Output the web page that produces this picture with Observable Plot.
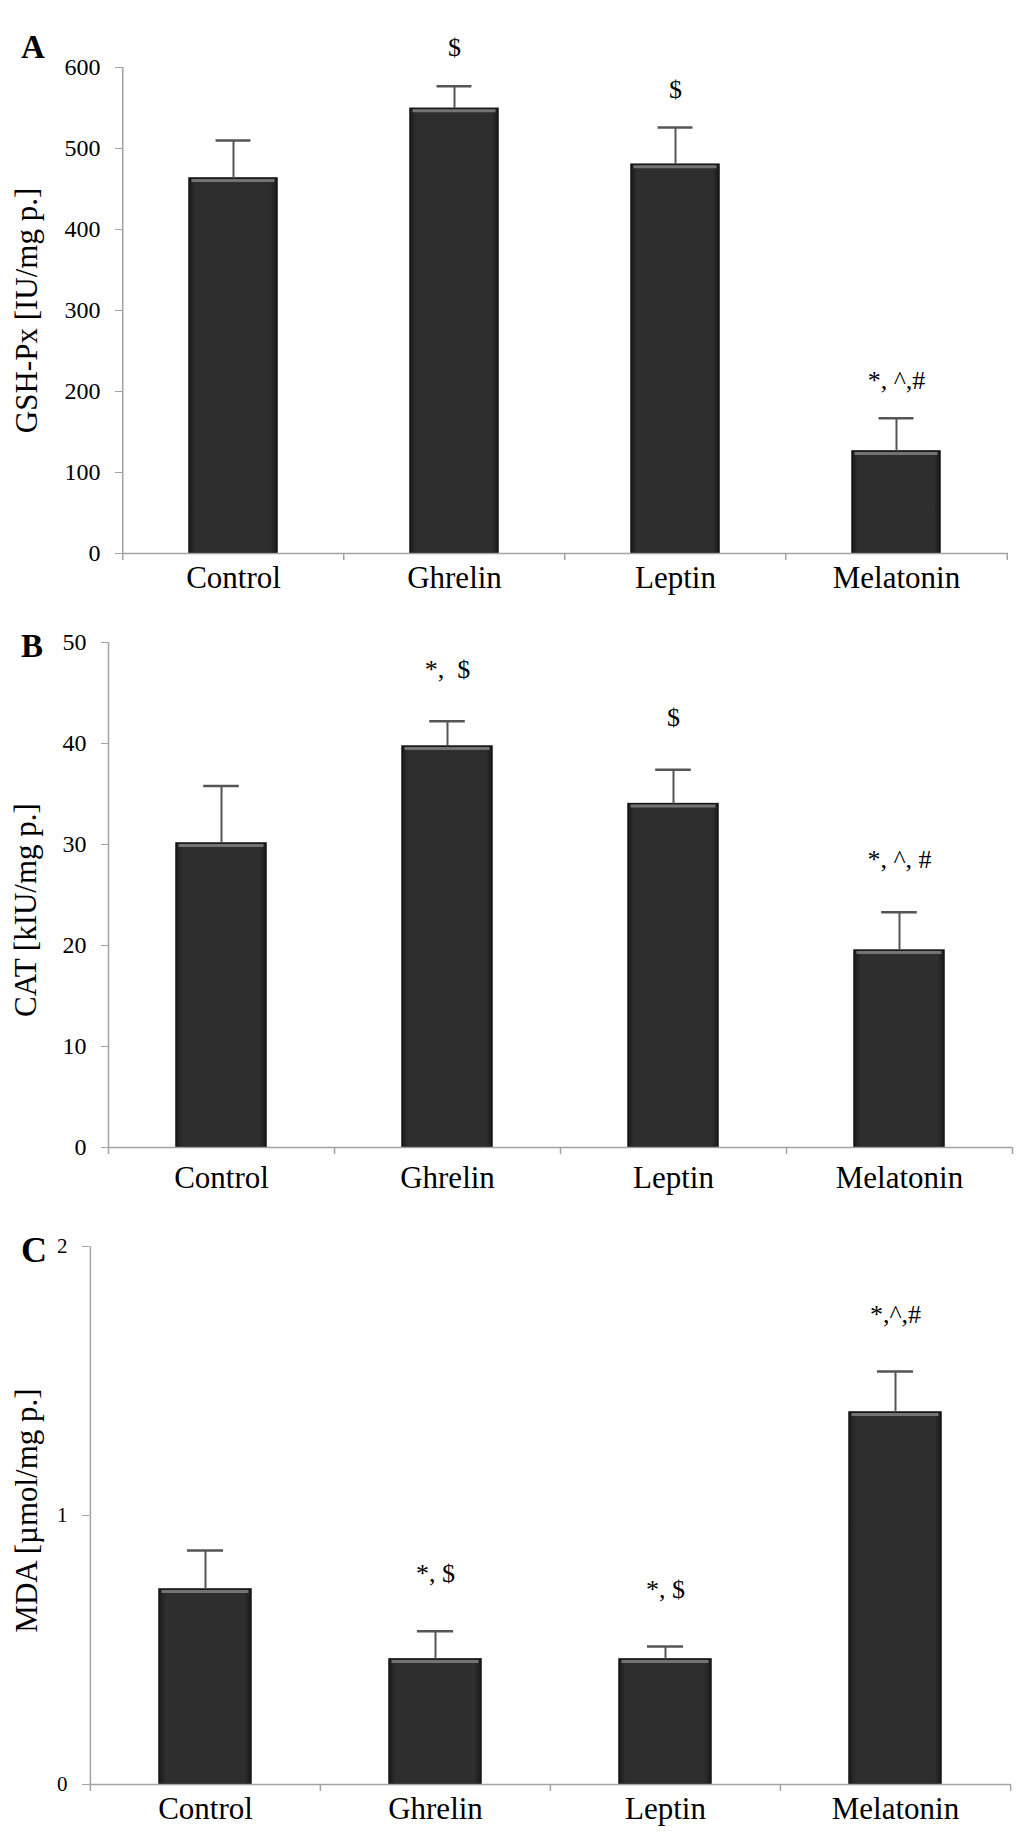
<!DOCTYPE html>
<html>
<head>
<meta charset="utf-8">
<script src="https://cdn.jsdelivr.net/npm/d3@7"></script>
<script src="https://cdn.jsdelivr.net/npm/@observablehq/plot@0.6"></script>
<style>
  body { margin: 0; background: #fff; }
  #chart { position: relative; width: 1033px; }
  #chart svg { display: block; }
  .panel-letter { position: absolute; left: 21px; font: bold 33px "Liberation Serif", "Times New Roman", serif; line-height: 1; }
</style>
</head>
<body>
<div id="chart"></div>
<script>
const groups = ["Control", "Ghrelin", "Leptin", "Melatonin"];

// A: GSH-Px
const gshValues = [463, 549, 480, 126];
const gshErrors = [47, 28, 46, 41];
const gshNotes = ["", "$", "$", "*, ^,#"];
const gshTicks = [0, 100, 200, 300, 400, 500, 600];

// B: CAT
const catValues = [30.1, 39.7, 34.0, 19.5];
const catErrors = [5.7, 2.5, 3.4, 3.8];
const catNotes = ["", "*,\u00a0 $", "$", "*, ^, #"];
const catTicks = [0, 10, 20, 30, 40, 50];

// C: MDA
const mdaValues = [0.725, 0.465, 0.465, 1.383];
const mdaErrors = [0.145, 0.105, 0.048, 0.152];
const mdaNotes = ["", "*, $", "*, $", "*,^,#"];
const mdaTicks = [0, 1, 2];

const AXIS = "#a3a3a3";
const W = 1033;

const chart = document.getElementById("chart");

// horizontal shading on the bars
function barDefs() {
  const g = d3.create("svg:g");
  const grad = g.append("defs").append("linearGradient").attr("id", "barShade").attr("x1", 0).attr("x2", 1).attr("y1", 0).attr("y2", 0);
  grad.append("stop").attr("offset", "0%").attr("stop-color", "#1a1a1a");
  grad.append("stop").attr("offset", "7%").attr("stop-color", "#2e2e2e");
  grad.append("stop").attr("offset", "93%").attr("stop-color", "#2e2e2e");
  grad.append("stop").attr("offset", "100%").attr("stop-color", "#1a1a1a");
  return g.node();
}

function drawPanel(p) {
  const rows = groups.map((name, i) => ({
    name,
    value: p.values[i],
    hi: p.values[i] + p.errors[i],
    note: p.notes[i]
  }));
  const step = (W - p.ml - p.mr) / groups.length;
  const bw = step * 0.6;
  const capInset = (bw - 10) / 2;
  const plotH = p.height - p.mt - p.mb;

  const svg = Plot.plot({
    width: W,
    height: p.height,
    marginTop: p.mt,
    marginBottom: p.mb,
    marginLeft: p.ml,
    marginRight: p.mr,
    style: {
      fontFamily: "'Liberation Serif', 'Times New Roman', serif",
      fontSize: "24px",
      color: "#000",
      background: "#fff",
      overflow: "visible"
    },
    x: { domain: groups, paddingInner: 0.6, paddingOuter: 0.3 },
    y: { domain: [0, p.yMax] },
    marks: [
      barDefs,
      Plot.barY(rows, { x: "name", y: "value", fill: "url(#barShade)", stroke: "#141414", strokeWidth: 1.5 }),
      // light bevel along the top of each bar
      Plot.tickY(rows, { x: "name", y: "value", dy: 2, stroke: "#737373", strokeWidth: 3, insetLeft: 2.5, insetRight: 2.5 }),
      // error bars (upper half only)
      Plot.ruleX(rows, { x: "name", y1: "value", y2: "hi", stroke: "#555", strokeWidth: 2 }),
      Plot.tickY(rows, { x: "name", y: "hi", stroke: "#555", strokeWidth: 2.5, insetLeft: capInset, insetRight: capInset }),
      Plot.text(rows.filter((d) => d.note), { x: "name", y: "hi", text: "note", dy: p.noteDy, fontSize: 26 }),
      // y axis line and category separators
      Plot.tickX(groups.slice(0, 1), { x: (d) => d, dx: -step / 2, stroke: AXIS, strokeWidth: 1.5 }),
      Plot.ruleY([0], { stroke: AXIS, strokeWidth: 1.5 }),
      Plot.tickX(groups, { x: (d) => d, dx: -step / 2, insetTop: plotH, insetBottom: -7, stroke: AXIS, strokeWidth: 1.5 }),
      Plot.tickX(groups.slice(-1), { x: (d) => d, dx: step / 2, insetTop: plotH, insetBottom: -7, stroke: AXIS, strokeWidth: 1.5 }),
      Plot.axisY({ ticks: p.yTicks, tickFormat: "d", tickSize: 7, tickPadding: 15, fontSize: p.tickFont, stroke: AXIS, fill: "#000", label: null }),
      Plot.axisX({ tickSize: 0, tickPadding: p.xPad, fontSize: 31, fill: "#000", label: null }),
      Plot.text([p.label], {
        frameAnchor: "left", textAnchor: "middle", lineAnchor: "middle", rotate: -90,
        dx: p.labelDx, dy: p.labelDy, fontSize: 31
      })
    ]
  });
  chart.append(svg);
}

drawPanel({
  values: gshValues, errors: gshErrors, notes: gshNotes, yTicks: gshTicks, yMax: 600,
  label: "GSH-Px [IU/mg p.]", tickFont: 24,
  height: 615, mt: 67, mb: 62, ml: 122, mr: 25,
  noteDy: -38, xPad: 12, labelDx: -95, labelDy: 0
});

drawPanel({
  values: catValues, errors: catErrors, notes: catNotes, yTicks: catTicks, yMax: 50,
  label: "CAT [kIU/mg p.]", tickFont: 24,
  height: 595, mt: 27, mb: 63, ml: 108, mr: 21,
  noteDy: -52, xPad: 18, labelDx: -82, labelDy: 15
});

drawPanel({
  values: mdaValues, errors: mdaErrors, notes: mdaNotes, yTicks: mdaTicks, yMax: 2,
  label: "MDA [\u00b5mol/mg p.]", tickFont: 21,
  height: 623, mt: 36, mb: 49, ml: 89, mr: 23,
  noteDy: -57, xPad: 12, labelDx: -62, labelDy: -5
});

// panel letters
[["A", 31, 33], ["B", 630, 33], ["C", 1232, 36]].forEach(([letter, top, size]) => {
  const el = document.createElement("div");
  el.className = "panel-letter";
  el.style.top = top + "px";
  el.style.fontSize = size + "px";
  el.textContent = letter;
  chart.append(el);
});
</script>
</body>
</html>
